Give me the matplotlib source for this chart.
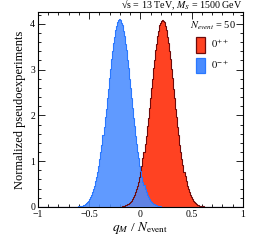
import numpy as np
import matplotlib
matplotlib.use("Agg")
import matplotlib.pyplot as plt
from matplotlib.patches import Patch
from matplotlib.ticker import MultipleLocator

plt.rcParams["font.family"] = ["Liberation Serif", "DejaVu Serif"]
plt.rcParams["mathtext.fontset"] = "stix"

# histogram binning (width 0.01 over [-1, 1])
bin_width = 0.01
n_bins = 200

# 0-+ hypothesis, first listed bin is [-0.69, -0.68]
blue_start = 31
blue_vals = [0.0, 0.001, 0.001, 0.002, 0.003, 0.004, 0.005, 0.007, 0.010, 0.013,
             0.017, 0.024, 0.030, 0.041, 0.051, 0.068, 0.084, 0.109, 0.135, 0.172,
             0.210, 0.263, 0.317, 0.388, 0.463, 0.557, 0.662, 0.771, 0.902, 1.04,
             1.21, 1.36, 1.57, 1.74, 1.96, 2.15, 2.39, 2.58, 2.82, 3.01,
             3.23, 3.40, 3.59, 3.72, 3.87, 3.95, 4.05, 4.08, 4.10, 4.09,
             4.03, 3.97, 3.85, 3.74, 3.57, 3.42, 3.21, 3.03, 2.80, 2.60,
             2.37, 2.17, 1.94, 1.76, 1.55, 1.38, 1.19, 1.06, 0.89, 0.78,
             0.655, 0.552, 0.468, 0.383, 0.320, 0.258, 0.214, 0.169, 0.137, 0.106,
             0.086, 0.066, 0.053, 0.039, 0.031, 0.022, 0.017, 0.012, 0.010, 0.007,
             0.005, 0.004, 0.003, 0.002, 0.001, 0.001, 0.0]

# 0++ hypothesis, first listed bin is [-0.27, -0.26]
red_start = 73
red_vals = [0.0, 0.001, 0.001, 0.002, 0.002, 0.004, 0.006, 0.007, 0.009, 0.014,
            0.018, 0.023, 0.031, 0.040, 0.053, 0.066, 0.086, 0.107, 0.137, 0.170,
            0.214, 0.259, 0.320, 0.384, 0.467, 0.553, 0.658, 0.777, 0.898, 1.06,
            1.19, 1.38, 1.55, 1.76, 1.94, 2.17, 2.37, 2.60, 2.80, 3.03,
            3.21, 3.42, 3.56, 3.74, 3.85, 3.97, 4.02, 4.07, 4.08, 4.06,
            4.04, 3.95, 3.87, 3.72, 3.59, 3.40, 3.23, 3.01, 2.82, 2.58,
            2.39, 2.15, 1.96, 1.74, 1.57, 1.36, 1.21, 1.04, 0.91, 0.77,
            0.665, 0.556, 0.462, 0.389, 0.316, 0.262, 0.211, 0.172, 0.134, 0.109,
            0.084, 0.068, 0.051, 0.041, 0.030, 0.024, 0.017, 0.013, 0.010, 0.007,
            0.005, 0.004, 0.003, 0.002, 0.001, 0.001, 0.0]

labels = [r"$0^{++}$", r"$0^{-+}$"]

edges = -1 + bin_width * np.arange(n_bins + 1)

def pad(vals, start):
    h = np.zeros(n_bins)
    h[start:start + len(vals)] = vals
    return h

h_blue = pad(blue_vals, blue_start)
h_red = pad(red_vals, red_start)

red_fill, red_edge = "#ff4222", "#6e0a0a"
blue_fill, blue_edge = "#4a8cff", "#2a78ff"

fig = plt.figure(figsize=(2.56, 2.44), dpi=100)
ax = fig.add_axes([0.148, 0.152, 0.801, 0.797])

ax.stairs(h_red, edges, fill=True, color=red_fill, zorder=2)
ax.stairs(h_blue, edges, fill=True, color=blue_fill, alpha=0.88, zorder=3)
ax.stairs(h_red, edges, color=red_edge, lw=0.8, zorder=4)
ax.stairs(h_blue, edges, color=blue_edge, lw=0.8, zorder=5)

ax.set_xlim(-1, 1)
ax.set_ylim(0, 4.25)
ax.xaxis.set_major_locator(MultipleLocator(0.5))
ax.xaxis.set_minor_locator(MultipleLocator(0.1))
ax.yaxis.set_major_locator(MultipleLocator(1))
ax.yaxis.set_minor_locator(MultipleLocator(0.2))
ax.tick_params(which="both", direction="in", top=True, right=True, labelsize=7)
ax.tick_params(axis="x", pad=2.3)
ax.tick_params(axis="y", pad=2.0)
ax.tick_params(which="major", length=5, width=0.6)
ax.tick_params(which="minor", length=2.5, width=0.6)
ax.set_xticks([-1, -0.5, 0, 0.5, 1])
ax.set_xticklabels(["\u22121", "\u22120.5", "0", "0.5", "1"])
for s in ax.spines.values():
    s.set_linewidth(0.8)

ax.set_xlabel(r"$q_{M}$ / $N_{\rm event}$", fontsize=9.5, labelpad=1.0)
ax.set_ylabel("Normalized pseudoexperiments", fontsize=9, labelpad=3)
ax.set_title("\u221as = 13 TeV, $M_{S}$ = 1500 GeV", loc="right", fontsize=7.2, pad=0.8)

handles = [Patch(facecolor=red_fill, edgecolor=red_edge, lw=0.9),
           Patch(facecolor=blue_fill, edgecolor=blue_edge, lw=0.9)]
ax.legend(handles, labels, title=r"$N_{event}$ = 50", loc="upper right", frameon=False,
          fontsize=7.5, title_fontsize=7.5, handlelength=0.9, handleheight=1.9,
          handletextpad=0.6, borderaxespad=0.3, labelspacing=0.5)

fig.savefig("out.png", dpi=100)
